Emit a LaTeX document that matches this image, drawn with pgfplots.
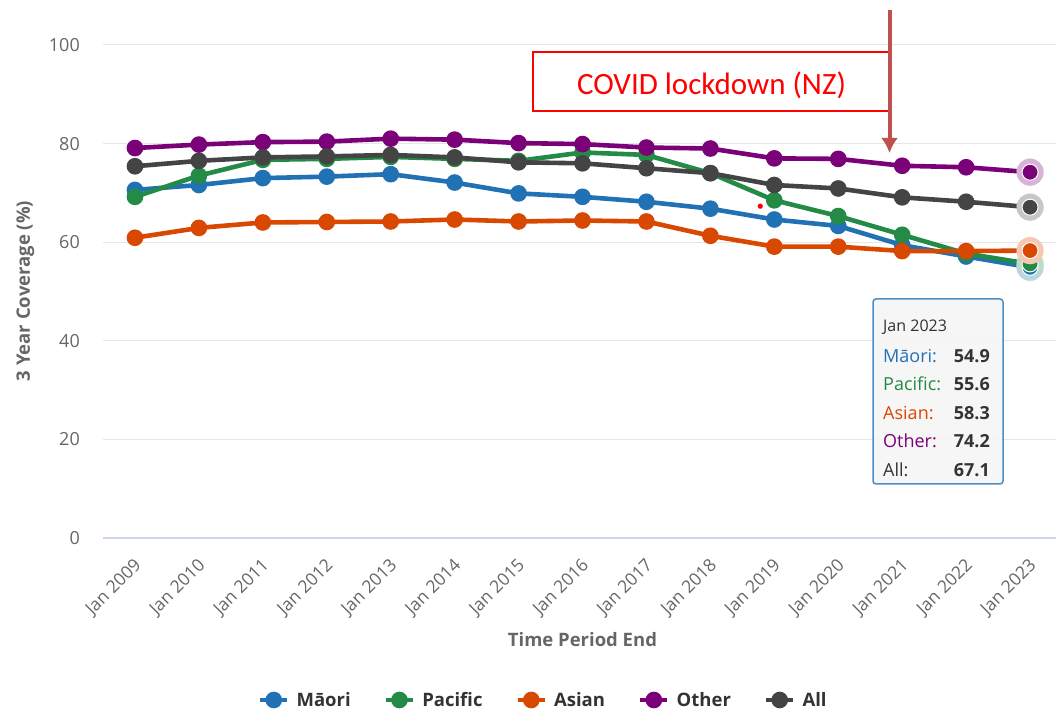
\documentclass[border=0pt]{standalone}
\usepackage{pgfplots}
\pgfplotsset{compat=1.18}
\usetikzlibrary{arrows.meta}
\usepackage{fontspec}
\setmainfont{Open Sans}
\newfontfamily\calibri{Carlito}
\definecolor{cMaori}{HTML}{2171B5}
\definecolor{cPacific}{HTML}{238B45}
\definecolor{cAsian}{HTML}{D94801}
\definecolor{cOther}{HTML}{7A0177}
\definecolor{cAll}{HTML}{444444}
\definecolor{cGrid}{HTML}{E6E6E6}
\definecolor{cAxis}{HTML}{CCD6EB}
\definecolor{cLab}{HTML}{666666}
\definecolor{cTxt}{HTML}{333333}
\definecolor{cArrow}{HTML}{C0504D}
\begin{document}
\begin{tikzpicture}[x=1pt,y=1pt]
\path[use as bounding box] (0,0) rectangle (1056,711);
\begin{axis}[
  at={(103pt,173pt)}, anchor=south west, scale only axis,
  width=953pt, height=493pt,
  xmin=-0.5, xmax=14.406, ymin=0, ymax=100,
  axis line style={draw=none},
  major tick length=0pt,
  ytick={0,20,40,60,80,100},
  xtick={0,...,14},
  xticklabels={Jan 2009,Jan 2010,Jan 2011,Jan 2012,Jan 2013,Jan 2014,Jan 2015,Jan 2016,Jan 2017,Jan 2018,Jan 2019,Jan 2020,Jan 2021,Jan 2022,Jan 2023},
  ymajorgrids, grid style={cGrid, line width=1pt},
  /pgf/number format/assume math mode=true,
  yticklabel style={anchor=east, inner sep=0pt, xshift=-23pt, font=\fontsize{18}{20}\selectfont, text=cLab},
  xticklabel style={xshift=-2pt, yshift=-19pt, rotate=45, anchor=north east, inner sep=0pt, font=\fontsize{17.5}{20}\selectfont, text=cLab},
  xlabel={Time Period End},
  xlabel style={at={(axis description cs:0.5031,-0.2205)}, anchor=base, inner sep=0pt, font=\fontsize{18.5}{20}\selectfont\bfseries, text=cLab},
  ylabel={3 Year Coverage (\%)},
  ylabel style={at={(axis description cs:-0.0815,0.501)}, anchor=center, rotate=0, inner sep=0pt, font=\fontsize{18.5}{20}\selectfont\bfseries, text=cLab},
  clip=false,
  every axis plot/.append style={line width=4.6pt, mark=*, mark size=6pt, mark options={solid}},
  legend columns=5,
  legend image code/.code={\draw[#1, mark repeat=2, mark phase=2] plot coordinates {(0pt,0pt) (13.5pt,0pt) (27pt,0pt)};},
  legend style={at={(0.1626,-0.3286)}, anchor=west, draw=none, fill=none, inner sep=0pt, outer sep=0pt,
    font=\fontsize{18.5}{20}\selectfont\bfseries, text=cTxt,
    nodes={inner sep=0pt},
    /tikz/every odd column/.append style={column sep=7pt},
    /tikz/every even column/.append style={column sep=33pt}},
  halo/.style={forget plot, only marks, mark=*, mark size=13.5pt, mark options={solid, draw=#1!30!white, fill=#1!30!white, line width=0.1pt}},
  hover/.style={forget plot, only marks, mark=*, mark size=8pt, mark options={solid, draw=white, fill=#1, line width=1pt}},
]
\draw[cAxis, line width=1.2pt] (rel axis cs:0,0) -- (rel axis cs:1,0);
\addplot[color=cMaori] coordinates {(0,70.6)(1,71.6)(2,73.0)(3,73.3)(4,73.8)(5,72.1)(6,69.9)(7,69.2)(8,68.2)(9,66.8)(10,64.6)(11,63.3)(12,59.4)(13,57.1)(14,54.9)};
\addlegendentry{Māori}
\addplot[color=cPacific] coordinates {(0,69.2)(1,73.5)(2,76.7)(3,76.9)(4,77.3)(5,76.9)(6,76.5)(7,78.2)(8,77.7)(9,74.0)(10,68.5)(11,65.3)(12,61.5)(13,57.7)(14,55.6)};
\addlegendentry{Pacific}
\addplot[color=cAsian] coordinates {(0,60.9)(1,62.9)(2,64.0)(3,64.1)(4,64.2)(5,64.6)(6,64.2)(7,64.4)(8,64.2)(9,61.3)(10,59.1)(11,59.1)(12,58.2)(13,58.2)(14,58.3)};
\addlegendentry{Asian}
\addplot[color=cOther] coordinates {(0,79.1)(1,79.8)(2,80.3)(3,80.4)(4,81.0)(5,80.8)(6,80.1)(7,79.9)(8,79.2)(9,79.0)(10,77.0)(11,76.9)(12,75.5)(13,75.2)(14,74.2)};
\addlegendentry{Other}
\addplot[color=cAll] coordinates {(0,75.4)(1,76.5)(2,77.2)(3,77.4)(4,77.7)(5,77.2)(6,76.2)(7,76.0)(8,75.0)(9,74.0)(10,71.6)(11,70.9)(12,69.1)(13,68.2)(14,67.1)};
\addlegendentry{All}
% hover halos and enlarged last markers
\addplot[halo=cMaori] coordinates {(14,54.9)};
\addplot[halo=cPacific] coordinates {(14,55.6)};
\addplot[hover=cMaori] coordinates {(14,54.9)};
\addplot[hover=cPacific] coordinates {(14,55.6)};
\addplot[halo=cAsian] coordinates {(14,58.3)};
\addplot[hover=cAsian] coordinates {(14,58.3)};
\addplot[halo=cOther] coordinates {(14,74.2)};
\addplot[hover=cOther] coordinates {(14,74.2)};
\addplot[halo=cAll] coordinates {(14,67.1)};
\addplot[hover=cAll] coordinates {(14,67.1)};
% small red dot
\addplot[forget plot, only marks, mark=*, mark size=2.5pt, mark options={solid, draw=red, fill=red, line width=0.1pt}] coordinates {(9.78,67.3)};
\end{axis}
% COVID annotation
\draw[red, line width=1.8pt, fill=white] (533,600) rectangle (890,659);
\node[text=red, font=\calibri\fontsize{31}{33}\selectfont, inner sep=0pt, anchor=base] at (711.5,616) {COVID lockdown (NZ)};
\draw[cArrow, line width=4pt, -{Latex[length=15pt,width=17pt]}] (889.5,701) -- (889.5,558);
% tooltip
\draw[cMaori!80, line width=1.5pt, fill=white!96!black, fill opacity=0.9, rounded corners=3pt] (873,412) rectangle (1003,227);
\node[anchor=base west, inner sep=0pt, text=cTxt, font=\fontsize{16}{17}\selectfont] at (883,379) {Jan 2023};
\node[anchor=base west, inner sep=0pt, text=cMaori, font=\fontsize{18}{20}\selectfont] at (883,348.5) {Māori:};
\node[anchor=base east, inner sep=0pt, text=cTxt, font=\fontsize{18}{20}\selectfont\bfseries] at (990,348.5) {54.9};
\node[anchor=base west, inner sep=0pt, text=cPacific, font=\fontsize{18}{20}\selectfont] at (883,320) {Pacific:};
\node[anchor=base east, inner sep=0pt, text=cTxt, font=\fontsize{18}{20}\selectfont\bfseries] at (990,320) {55.6};
\node[anchor=base west, inner sep=0pt, text=cAsian, font=\fontsize{18}{20}\selectfont] at (883,291.5) {Asian:};
\node[anchor=base east, inner sep=0pt, text=cTxt, font=\fontsize{18}{20}\selectfont\bfseries] at (990,291.5) {58.3};
\node[anchor=base west, inner sep=0pt, text=cOther, font=\fontsize{18}{20}\selectfont] at (883,263) {Other:};
\node[anchor=base east, inner sep=0pt, text=cTxt, font=\fontsize{18}{20}\selectfont\bfseries] at (990,263) {74.2};
\node[anchor=base west, inner sep=0pt, text=cTxt, font=\fontsize{18}{20}\selectfont] at (883,234.5) {All:};
\node[anchor=base east, inner sep=0pt, text=cTxt, font=\fontsize{18}{20}\selectfont\bfseries] at (990,234.5) {67.1};
\end{tikzpicture}
\end{document}
